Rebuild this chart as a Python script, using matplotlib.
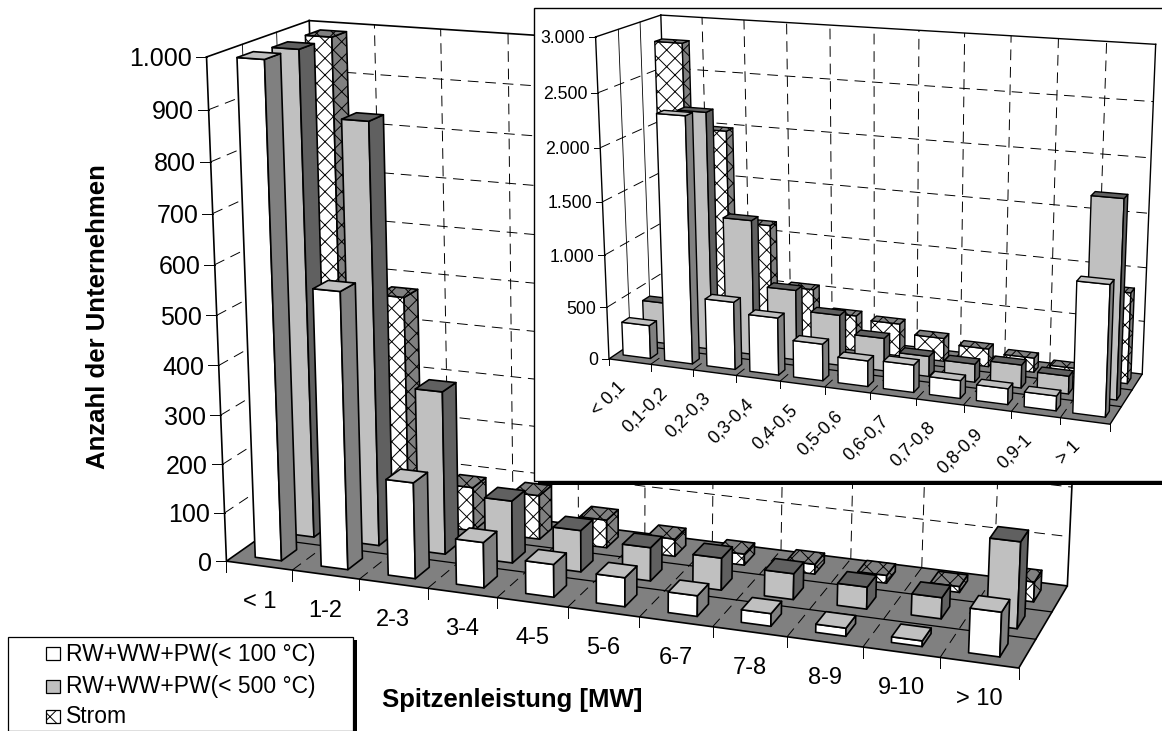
"""Spitzenleistung chart: perspective 3D columns with an inset, drawn in pixel axes."""

import numpy as np
import matplotlib

matplotlib.use("Agg")
import matplotlib.pyplot as plt
from matplotlib.patches import Polygon, Rectangle

plt.rcParams["font.family"] = ["Liberation Sans", "DejaVu Sans"]
plt.rcParams["hatch.linewidth"] = 0.7

SERIES_NAMES = ["RW+WW+PW(< 100 °C)", "RW+WW+PW(< 500 °C)", "Strom"]

MAIN_CATS = ["< 1", "1-2", "2-3", "3-4", "4-5", "5-6", "6-7", "7-8", "8-9", "9-10", "> 10"]
MAIN_LOW = [995, 560, 195, 92, 66, 58, 41, 25, 16, 11, 86]
MAIN_MID = [990, 860, 335, 128, 85, 68, 65, 52, 44, 42, 170]
MAIN_HIGH = [990, 475, 92, 92, 58, 36, 23, 20, 16, 12, 40]
MAIN_TICKS = [0, 100, 200, 300, 400, 500, 600, 700, 800, 900, 1000]
MAIN_TICK_LABELS = ["0", "100", "200", "300", "400", "500", "600", "700", "800", "900", "1.000"]

INSET_CATS = ["< 0,1", "0,1-0,2", "0,2-0,3", "0,3-0,4", "0,4-0,5", "0,5-0,6",
              "0,6-0,7", "0,7-0,8", "0,8-0,9", "0,9-1", "> 1"]
INSET_LOW = [320, 2320, 640, 540, 345, 240, 255, 165, 145, 135, 1175]
INSET_MID = [400, 2265, 1290, 670, 480, 310, 190, 170, 215, 165, 1805]
INSET_HIGH = [2800, 2000, 1130, 550, 340, 310, 220, 170, 135, 85, 845]
INSET_TICKS = [0, 500, 1000, 1500, 2000, 2500, 3000]
INSET_TICK_LABELS = ["0", "500", "1.000", "1.500", "2.000", "2.500", "3.000"]

# pixel positions of the plot box corners: (u, v, w) -> (x, y)
MAIN_BOX = [((0, 0, 0), (226.7, 563.3)), ((1, 0, 0), (1018.3, 666.7)),
            ((0, 1, 0), (323, 491)), ((1, 1, 0), (1067.7, 587.3)),
            ((0, 0, 1), (206.7, 56)), ((0, 1, 1), (309, 21.7)),
            ((1, 1, 1), (1091, 71))]
INSET_BOX = [((0, 0, 0), (609, 359.3)), ((1, 0, 0), (1110, 424)),
             ((0, 1, 0), (670.5, 317)), ((1, 1, 0), (1142.3, 374.3)),
             ((0, 0, 1), (595.7, 36.7)), ((0, 1, 1), (660.7, 15.3)),
             ((1, 1, 1), (1155.7, 44.3))]

WHITE = "#ffffff"
LIGHT = "#c0c0c0"
MIDDLE = "#808080"
DARK = "#606060"
SERIES_FACES = [(WHITE, LIGHT, MIDDLE), (LIGHT, DARK, DARK), (WHITE, MIDDLE, MIDDLE)]


def fit_camera(box):
    rows = []
    for (u, v, w), (x, y) in box:
        rows.append([u, v, w, 1, 0, 0, 0, 0, -x * u, -x * v, -x * w, -x])
        rows.append([0, 0, 0, 0, u, v, w, 1, -y * u, -y * v, -y * w, -y])
    return np.linalg.svd(np.array(rows))[2][-1].reshape(3, 4)


def project(cam, u, v, w):
    h = cam @ np.array([u, v, w, 1.0])
    return h[0] / h[2], h[1] / h[2]


def draw_chart(ax, box, cats, series, ticks, tick_labels, z, lw, tick_size, tick_len, gap_u, gap_v):
    cam = fit_camera(box)
    n = len(cats)
    top = ticks[-1]

    def pt(c, s, val):
        return project(cam, c / n, s / 3, val / top)

    def line(a, b, ls="-", width=0.7):
        ax.plot([a[0], b[0]], [a[1], b[1]], color="black", lw=width, ls=ls, zorder=z,
                solid_capstyle="projecting")

    dash = (0, (11, 7))
    ax.add_patch(Polygon([pt(0, 0, 0), pt(n, 0, 0), pt(n, 3, 0), pt(0, 3, 0)], fc=MIDDLE,
                         ec="black", lw=lw, zorder=z))

    # walls
    for t in ticks[1:-1]:
        line(pt(0, 0, t), pt(0, 3, t), dash)
        line(pt(0, 3, t), pt(n, 3, t), dash)
    for c in range(1, n):
        line(pt(c, 3, 0), pt(c, 3, top), dash)
        line(pt(c, 0, 0), pt(c, 3, 0), dash)
    for s in (1, 2):
        line(pt(0, s, 0), pt(0, s, top), "-", 0.6)
        line(pt(0, s, 0), pt(n, s, 0), "-", 0.9)
    line(pt(0, 0, 0), pt(0, 0, top), "-", lw)
    line(pt(0, 3, 0), pt(0, 3, top), "-", lw)
    line(pt(n, 3, 0), pt(n, 3, top), "-", lw)
    line(pt(0, 0, top), pt(0, 3, top), "-", lw)
    line(pt(0, 3, top), pt(n, 3, top), "-", lw)

    # ticks and labels
    for t, label in zip(ticks, tick_labels):
        x, y = pt(0, 0, t)
        ax.plot([x - tick_len, x], [y, y], color="black", lw=0.7, zorder=z)
        ax.text(x - tick_len - 4, y, label, ha="right", va="center_baseline", fontsize=tick_size, zorder=z)
    for c in range(n + 1):
        x, y = pt(c, 0, 0)
        ax.plot([x, x], [y, y + tick_len], color="black", lw=0.7, zorder=z)

    # columns, back row first
    for s in (2, 1, 0):
        front, roof, side = SERIES_FACES[s]
        hatch = "xx" if s == 2 else None
        for c, val in enumerate(series[s]):
            u0, u1 = c + gap_u, c + 1 - gap_u
            v0, v1 = s + gap_v, s + 1 - gap_v
            faces = [
                ([pt(u0, v0, 0), pt(u1, v0, 0), pt(u1, v0, val), pt(u0, v0, val)], front),
                ([pt(u1, v0, 0), pt(u1, v1, 0), pt(u1, v1, val), pt(u1, v0, val)], side),
                ([pt(u0, v0, val), pt(u1, v0, val), pt(u1, v1, val), pt(u0, v1, val)], roof),
            ]
            for verts, color in faces:
                ax.add_patch(Polygon(verts, fc=color, ec="black", lw=lw, hatch=hatch,
                                     joinstyle="round", zorder=z))
    return pt


fig = plt.figure(figsize=(11.62, 7.31), dpi=100)
ax = fig.add_axes([0, 0, 1, 1])
ax.set_xlim(0, 1162)
ax.set_ylim(731, 0)
ax.axis("off")

# main chart
main_pt = draw_chart(ax, MAIN_BOX, MAIN_CATS, [MAIN_LOW, MAIN_MID, MAIN_HIGH],
                     MAIN_TICKS, MAIN_TICK_LABELS, 1, 1.2, 18, 10.5, 0.3, 0.27)
for c, label in enumerate(MAIN_CATS):
    x, y = main_pt(c + 0.5, 0, 0)
    ax.text(x, y + 36, label, ha="center", va="center", fontsize=17, zorder=1)
ax.text(98, 317, "Anzahl der Unternehmen", rotation=90, ha="center", va="center",
        fontsize=18.5, fontweight="bold", zorder=1)
ax.text(512, 700, "Spitzenleistung [MW]", ha="center", va="center",
        fontsize=18.5, fontweight="bold", zorder=1)

# inset
ax.add_patch(Rectangle((538, 481), 630, 4, fc="black", ec="none", zorder=5))
ax.add_patch(Rectangle((534, 7.5), 640, 473, fc="white", ec="black", lw=1.0, zorder=5))
inset_pt = draw_chart(ax, INSET_BOX, INSET_CATS, [INSET_LOW, INSET_MID, INSET_HIGH],
                      INSET_TICKS, INSET_TICK_LABELS, 6, 1.0, 12.7, 6.5, 0.17, 0.33)
for c, label in enumerate(INSET_CATS):
    x, y = inset_pt(c + 0.5, 0, 0)
    ax.text(x - 7, y + 23, label, rotation=45, rotation_mode="anchor", ha="right", va="center",
            fontsize=13, zorder=6)

# legend
ax.add_patch(Rectangle((353, 640), 4, 91, fc="black", ec="none", zorder=7))
ax.add_patch(Rectangle((7.5, 636.5), 345.5, 94, fc="white", ec="black", lw=0.9, zorder=7))
for row, (name, y) in enumerate(zip(SERIES_NAMES, (654, 686.5, 716.5))):
    ax.add_patch(Rectangle((46, y - 7), 14, 13, fc=SERIES_FACES[row][0], ec="black", lw=0.9,
                           hatch="xx" if row == 2 else None, zorder=7))
    ax.text(66, y, name, ha="left", va="center", fontsize=16.5, zorder=7)

fig.savefig("out.png", dpi=100)
